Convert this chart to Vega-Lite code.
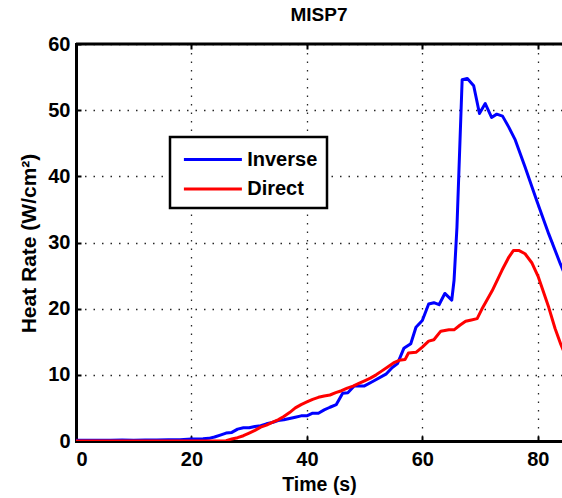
{
  "$schema": "https://vega.github.io/schema/vega-lite/v6.json",
  "width": 486,
  "height": 397,
  "autosize": {"type": "none"},
  "padding": {"left": 76, "top": 44, "right": 0, "bottom": 57},
  "background": "white",
  "title": {"text": "MISP7", "font": "Liberation Sans", "fontSize": 19, "fontWeight": "bold", "color": "black", "anchor": "middle", "offset": 9},
  "config": {
    "view": {"stroke": null},
    "axis": {
      "domainColor": "black", "domainWidth": 3, "domainCap": "square",
      "tickColor": "black", "tickWidth": 2, "tickSize": -5,
      "labelFont": "Liberation Sans", "labelFontWeight": "bold", "labelFontSize": 20, "labelColor": "black",
      "titleFont": "Liberation Sans", "titleFontWeight": "bold", "titleFontSize": 19.5, "titleColor": "black",
      "gridColor": "black", "gridDash": [1.5, 7], "gridWidth": 1.3, "gridOpacity": 0.85
    }
  },
  "datasets": {
    "curves": [
      {"t": 0, "v": 0.1, "s": "Inverse"}, {"t": 2, "v": 0.1, "s": "Inverse"}, {"t": 4, "v": 0.1, "s": "Inverse"}, {"t": 6, "v": 0.1, "s": "Inverse"}, {"t": 8, "v": 0.15, "s": "Inverse"}, {"t": 10, "v": 0.1, "s": "Inverse"}, {"t": 12, "v": 0.15, "s": "Inverse"}, {"t": 14, "v": 0.15, "s": "Inverse"}, {"t": 16, "v": 0.2, "s": "Inverse"}, {"t": 18, "v": 0.2, "s": "Inverse"}, {"t": 20, "v": 0.3, "s": "Inverse"}, {"t": 22, "v": 0.35, "s": "Inverse"}, {"t": 23, "v": 0.4, "s": "Inverse"}, {"t": 24, "v": 0.6, "s": "Inverse"}, {"t": 25, "v": 0.9, "s": "Inverse"}, {"t": 26, "v": 1.2, "s": "Inverse"}, {"t": 27, "v": 1.3, "s": "Inverse"}, {"t": 28, "v": 1.8, "s": "Inverse"}, {"t": 29, "v": 2.0, "s": "Inverse"}, {"t": 30, "v": 2.0, "s": "Inverse"}, {"t": 31, "v": 2.2, "s": "Inverse"}, {"t": 32, "v": 2.3, "s": "Inverse"}, {"t": 33, "v": 2.6, "s": "Inverse"}, {"t": 34, "v": 2.8, "s": "Inverse"}, {"t": 35, "v": 3.1, "s": "Inverse"}, {"t": 36, "v": 3.2, "s": "Inverse"}, {"t": 37, "v": 3.4, "s": "Inverse"}, {"t": 38, "v": 3.6, "s": "Inverse"}, {"t": 39, "v": 3.8, "s": "Inverse"}, {"t": 40, "v": 3.8, "s": "Inverse"}, {"t": 41, "v": 4.2, "s": "Inverse"}, {"t": 42, "v": 4.2, "s": "Inverse"}, {"t": 43, "v": 4.7, "s": "Inverse"}, {"t": 44, "v": 5.1, "s": "Inverse"}, {"t": 45.1, "v": 5.5, "s": "Inverse"}, {"t": 46.2, "v": 7.2, "s": "Inverse"}, {"t": 47.1, "v": 7.3, "s": "Inverse"}, {"t": 48.2, "v": 8.3, "s": "Inverse"}, {"t": 49.9, "v": 8.3, "s": "Inverse"}, {"t": 51.4, "v": 9.0, "s": "Inverse"}, {"t": 53.7, "v": 10.1, "s": "Inverse"}, {"t": 54.8, "v": 11.1, "s": "Inverse"}, {"t": 55.7, "v": 11.7, "s": "Inverse"}, {"t": 56.8, "v": 14.0, "s": "Inverse"}, {"t": 58.0, "v": 14.7, "s": "Inverse"}, {"t": 58.9, "v": 17.2, "s": "Inverse"}, {"t": 60.0, "v": 18.2, "s": "Inverse"}, {"t": 61.1, "v": 20.7, "s": "Inverse"}, {"t": 62.0, "v": 20.9, "s": "Inverse"}, {"t": 62.9, "v": 20.6, "s": "Inverse"}, {"t": 63.9, "v": 22.3, "s": "Inverse"}, {"t": 65.1, "v": 21.3, "s": "Inverse"}, {"t": 65.5, "v": 24.3, "s": "Inverse"}, {"t": 66.0, "v": 32.3, "s": "Inverse"}, {"t": 66.9, "v": 54.6, "s": "Inverse"}, {"t": 67.8, "v": 54.8, "s": "Inverse"}, {"t": 68.9, "v": 53.7, "s": "Inverse"}, {"t": 69.9, "v": 49.5, "s": "Inverse"}, {"t": 70.9, "v": 51.0, "s": "Inverse"}, {"t": 72.0, "v": 48.9, "s": "Inverse"}, {"t": 72.9, "v": 49.4, "s": "Inverse"}, {"t": 73.9, "v": 49.1, "s": "Inverse"}, {"t": 75.0, "v": 47.4, "s": "Inverse"}, {"t": 76.1, "v": 45.5, "s": "Inverse"}, {"t": 77.8, "v": 41.4, "s": "Inverse"}, {"t": 79.8, "v": 36.4, "s": "Inverse"}, {"t": 81.9, "v": 31.3, "s": "Inverse"}, {"t": 83.9, "v": 26.8, "s": "Inverse"}, {"t": 85, "v": 24.5, "s": "Inverse"},
      {"t": 0, "v": 0, "s": "Direct"}, {"t": 5, "v": 0, "s": "Direct"}, {"t": 10, "v": 0, "s": "Direct"}, {"t": 15, "v": 0, "s": "Direct"}, {"t": 20, "v": 0, "s": "Direct"}, {"t": 24, "v": 0, "s": "Direct"}, {"t": 26, "v": 0.05, "s": "Direct"}, {"t": 27, "v": 0.3, "s": "Direct"}, {"t": 28, "v": 0.5, "s": "Direct"}, {"t": 29, "v": 0.8, "s": "Direct"}, {"t": 30, "v": 1.2, "s": "Direct"}, {"t": 31, "v": 1.6, "s": "Direct"}, {"t": 32, "v": 2.1, "s": "Direct"}, {"t": 33, "v": 2.4, "s": "Direct"}, {"t": 34, "v": 2.8, "s": "Direct"}, {"t": 35, "v": 3.2, "s": "Direct"}, {"t": 36, "v": 3.7, "s": "Direct"}, {"t": 37, "v": 4.3, "s": "Direct"}, {"t": 38, "v": 5.0, "s": "Direct"}, {"t": 39, "v": 5.5, "s": "Direct"}, {"t": 40, "v": 5.9, "s": "Direct"}, {"t": 41, "v": 6.3, "s": "Direct"}, {"t": 42, "v": 6.6, "s": "Direct"}, {"t": 43, "v": 6.8, "s": "Direct"}, {"t": 44, "v": 6.95, "s": "Direct"}, {"t": 45, "v": 7.3, "s": "Direct"}, {"t": 46, "v": 7.6, "s": "Direct"}, {"t": 47, "v": 8.0, "s": "Direct"}, {"t": 48, "v": 8.3, "s": "Direct"}, {"t": 49, "v": 8.7, "s": "Direct"}, {"t": 50, "v": 9.1, "s": "Direct"}, {"t": 51, "v": 9.5, "s": "Direct"}, {"t": 52, "v": 10.0, "s": "Direct"}, {"t": 53, "v": 10.6, "s": "Direct"}, {"t": 54, "v": 11.2, "s": "Direct"}, {"t": 55, "v": 11.8, "s": "Direct"}, {"t": 56, "v": 12.2, "s": "Direct"}, {"t": 57, "v": 12.3, "s": "Direct"}, {"t": 57.6, "v": 13.3, "s": "Direct"}, {"t": 58.9, "v": 13.4, "s": "Direct"}, {"t": 60.0, "v": 14.2, "s": "Direct"}, {"t": 61.1, "v": 15.1, "s": "Direct"}, {"t": 62.0, "v": 15.3, "s": "Direct"}, {"t": 63.2, "v": 16.6, "s": "Direct"}, {"t": 64.6, "v": 16.8, "s": "Direct"}, {"t": 65.5, "v": 16.8, "s": "Direct"}, {"t": 66.5, "v": 17.5, "s": "Direct"}, {"t": 67.5, "v": 18.1, "s": "Direct"}, {"t": 68.5, "v": 18.3, "s": "Direct"}, {"t": 69.5, "v": 18.5, "s": "Direct"}, {"t": 70.3, "v": 19.9, "s": "Direct"}, {"t": 72.1, "v": 22.7, "s": "Direct"}, {"t": 73.8, "v": 25.8, "s": "Direct"}, {"t": 75.0, "v": 27.8, "s": "Direct"}, {"t": 75.8, "v": 28.8, "s": "Direct"}, {"t": 76.7, "v": 28.8, "s": "Direct"}, {"t": 77.8, "v": 28.3, "s": "Direct"}, {"t": 79.0, "v": 26.9, "s": "Direct"}, {"t": 80.1, "v": 24.8, "s": "Direct"}, {"t": 81.9, "v": 20.2, "s": "Direct"}, {"t": 83.0, "v": 17.0, "s": "Direct"}, {"t": 84.0, "v": 14.6, "s": "Direct"}, {"t": 85, "v": 12.5, "s": "Direct"}
    ],
    "frame": [{"t0": 0, "t1": 84.2, "top": 60}]
  },
  "layer": [
    {
      "data": {"name": "curves"},
      "mark": {"type": "line", "strokeWidth": 3, "clip": true, "strokeJoin": "round"},
      "encoding": {
        "x": {"field": "t", "type": "quantitative", "scale": {"domain": [0, 84.2], "nice": false, "zero": false},
              "axis": {"orient": "bottom", "values": [0, 20, 40, 60, 80], "title": "Time (s)", "labelPadding": 13, "titleBaseline": "top", "titleY": 34, "titleX": 243, "grid": true}},
        "y": {"field": "v", "type": "quantitative", "scale": {"domain": [0, 60], "nice": false},
              "axis": {"orient": "left", "values": [0, 10, 20, 30, 40, 50, 60], "title": "Heat Rate (W/cm²)", "titleFontSize": 21, "labelPadding": 11, "titleX": -37, "titleY": 199, "grid": true}},
        "color": {"field": "s", "type": "nominal",
                  "scale": {"domain": ["Inverse", "Direct"], "range": ["#0000ff", "#ff0000"]},
                  "legend": {"orient": "none", "legendX": 94, "legendY": 93, "title": null,
                             "symbolType": "M-2.5,0H2.5", "symbolSize": 538, "symbolStrokeWidth": 3, "symbolOffset": 20.4,
                             "labelFont": "Liberation Sans", "labelFontWeight": "bold", "labelFontSize": 20, "labelColor": "black",
                             "labelOffset": 20.8, "padding": 9, "rowPadding": 5.5,
                             "strokeColor": "black", "fillColor": "white",
                             "encode": {"legend": {"update": {"strokeWidth": {"value": 2.5}}}}}}
      }
    },
    {
      "data": {"name": "frame"},
      "mark": {"type": "rule", "color": "black", "strokeWidth": 3, "clip": false},
      "encoding": {
        "x": {"field": "t0", "type": "quantitative",
              "axis": {"orient": "top", "values": [0, 20, 40, 60, 80], "labels": false, "title": null, "domain": false, "grid": false}},
        "x2": {"field": "t1"},
        "y": {"field": "top", "type": "quantitative"}
      }
    }
  ]
}
